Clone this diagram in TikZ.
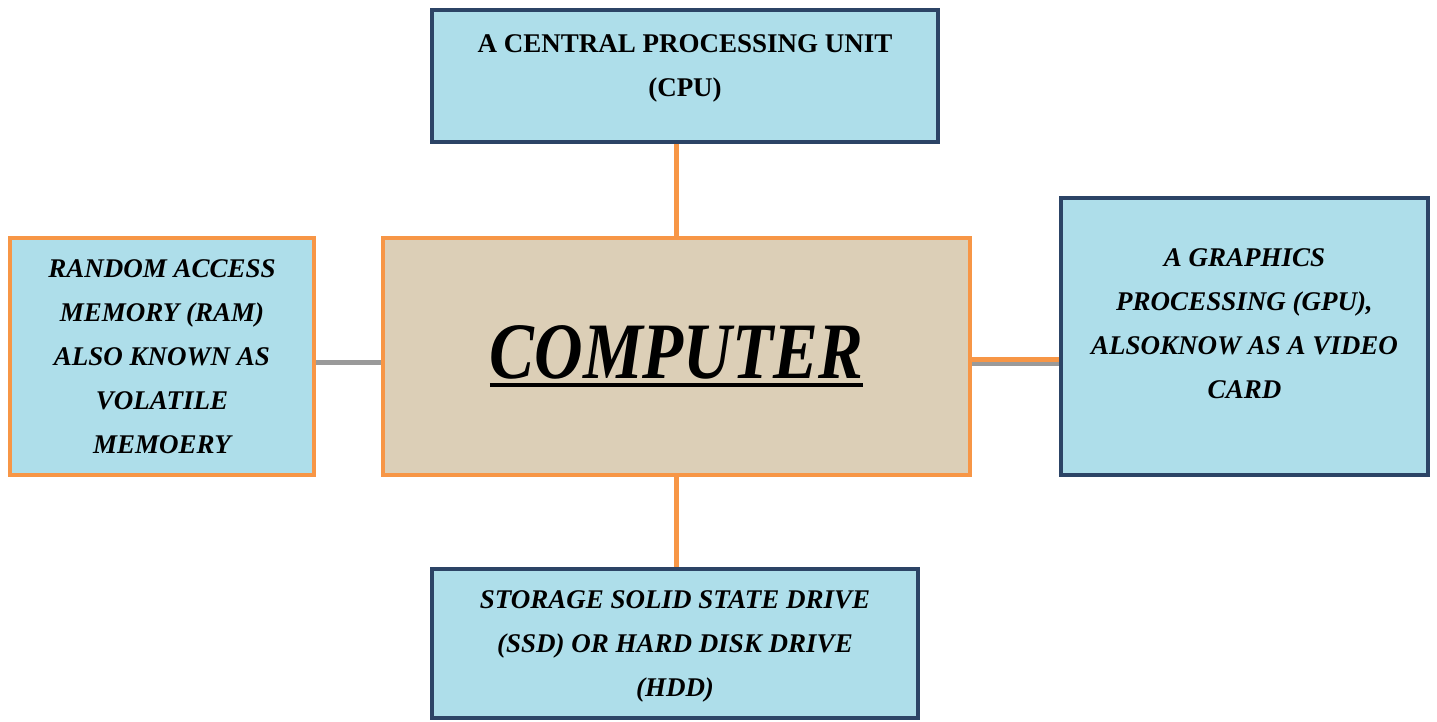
\documentclass[tikz,border=0pt]{standalone}
\usepackage{fontspec}
\setmainfont{Liberation Serif}
\newfontfamily\titulofont{Liberation Serif}[FakeStretch=0.84]
\usepackage{tikz}
\usetikzlibrary{backgrounds}

\definecolor{marco}{HTML}{2C4466}
\definecolor{naranja}{HTML}{F79646}
\definecolor{agua}{HTML}{AEDEEA}
\definecolor{lino}{HTML}{DCCFB7}
\definecolor{sombra}{HTML}{9A9A9A}

\newcommand\subraya[1]{\leavevmode\vtop{\hbox{#1}\kern2pt\hrule height 2pt}}

\tikzset{
	caja/.style={draw=marco, line width=2pt, fill=agua, inner sep=0pt, align=center,
		font=\fontsize{13.5}{22}\selectfont\bfseries\itshape},
	cajan/.style={caja, draw=naranja},
	enlace/.style={draw=naranja, line width=2.5pt},
	enlaceg/.style={draw=sombra, line width=2.5pt},
}

\begin{document}
\begin{tikzpicture}[x=0.5pt, y=-0.5pt]
		\useasboundingbox (0,0) rectangle (1437,722);
		% cajas
		\node[cajan, fill=lino, minimum width=293.5pt, minimum height=118.5pt] (comp) at (676.5,356.5)
			{\titulofont\fontsize{40}{40}\selectfont\subraya{COMPUTER}};
		\node[caja, minimum width=253pt, minimum height=66pt, text depth=10pt,
			font=\fontsize{13.5}{22}\selectfont\bfseries] (cpu) at (685,76)
			{A CENTRAL PROCESSING UNIT\\(CPU)};
		\node[cajan, minimum width=152pt, minimum height=118.5pt] (ram) at (162,356.5)
			{RANDOM ACCESS\\MEMORY (RAM)\\ALSO KNOWN AS\\VOLATILE\\MEMOERY};
		\node[caja, minimum width=183.5pt, minimum height=138.5pt, text depth=13pt] (gpu) at (1244.5,336.5)
			{A GRAPHICS\\PROCESSING (GPU),\\ALSOKNOW AS A VIDEO\\CARD};
		\node[caja, minimum width=243pt, minimum height=74.5pt, text depth=-3pt] (ssd) at (675,643.5)
			{STORAGE SOLID STATE DRIVE\\(SSD) OR HARD DISK DRIVE\\(HDD)};
		% lineas
		\begin{scope}[on background layer]
			\draw[enlace] (comp.north) -- (comp.north |- cpu.south);
			\draw[enlace] (comp.south) -- (comp.south |- ssd.north);
			\draw[enlaceg] ([yshift=-2.75pt]ram.east) -- ([yshift=-2.75pt]comp.west);
			\draw[enlaceg] ([yshift=-3.25pt]comp.east) -- ([yshift=-3.25pt]comp.east -| gpu.west);
			\draw[enlace] ([yshift=-1.25pt]comp.east) -- ([yshift=-1.25pt]comp.east -| gpu.west);
		\end{scope}
	\end{tikzpicture}
\end{document}
